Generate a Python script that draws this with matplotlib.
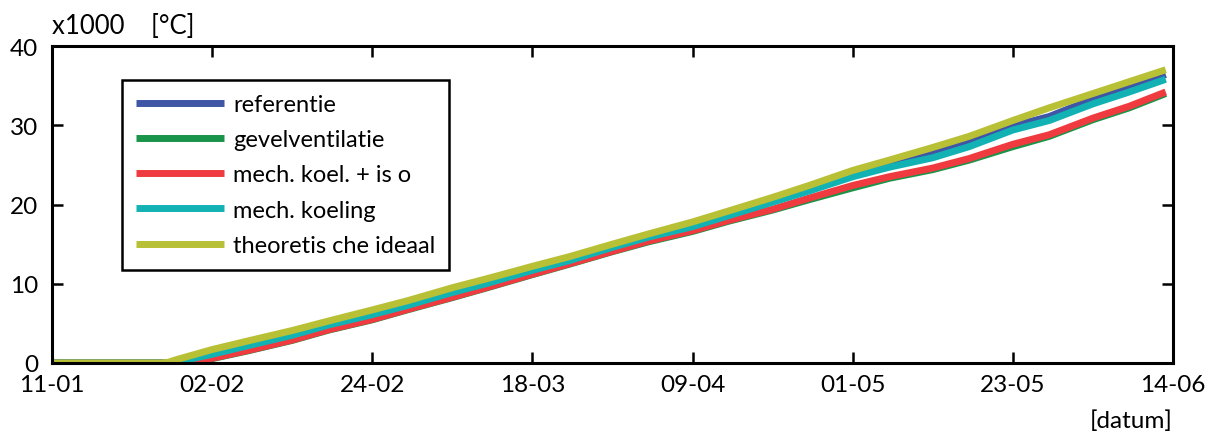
import matplotlib
matplotlib.use("Agg")
import matplotlib.pyplot as plt

plt.rcParams['font.family'] = ['Lato', 'DejaVu Sans']

# days since 11-01
days = [0, 15, 16, 17, 22, 27, 33, 38, 44, 49, 55, 60, 66, 71, 77, 82, 88, 93,
        99, 104, 110, 115, 121, 126, 132, 137, 143, 148, 153]

referentie = [0, 0, 0.05, 0.15, 1.15, 2.25, 3.55, 4.85, 6.15, 7.35, 8.95, 10.15,
              11.75, 12.95, 14.65, 15.95, 17.25, 18.7, 20.4, 21.9, 23.9, 25.2,
              26.5, 27.9, 29.9, 31.1, 33.3, 34.8, 36.4]
gevelventilatie = [0, 0, 0, 0.0, 0.55, 1.55, 2.85, 4.15, 5.45, 6.75, 8.25, 9.55,
                   11.15, 12.45, 14.05, 15.3, 16.6, 17.9, 19.3, 20.6, 22.1, 23.3,
                   24.4, 25.6, 27.3, 28.6, 30.7, 32.2, 34.0]
mech_koel_iso = [0, 0, 0, 0.05, 0.6, 1.6, 2.9, 4.2, 5.5, 6.8, 8.3, 9.6, 11.2,
                 12.5, 14.1, 15.4, 16.7, 18.0, 19.4, 20.8, 22.4, 23.5, 24.6, 25.8,
                 27.6, 28.8, 30.9, 32.4, 34.2]
mech_koeling = [0, 0, 0, 0.1, 1.1, 2.2, 3.5, 4.8, 6.1, 7.3, 8.9, 10.1, 11.7,
                12.9, 14.6, 15.9, 17.2, 18.6, 20.3, 21.7, 23.5, 24.7, 25.9, 27.3,
                29.4, 30.6, 32.7, 34.2, 35.8]
theoretisch = [0, 0, 0.1, 0.4, 1.7, 2.8, 4.1, 5.3, 6.7, 7.9, 9.5, 10.7, 12.2,
               13.4, 15.0, 16.3, 17.8, 19.2, 20.9, 22.4, 24.3, 25.6, 27.2, 28.6,
               30.6, 32.2, 34.0, 35.5, 37.0]

series_names = ['referentie', 'gevelventilatie', 'mech. koel. + is o',
                'mech. koeling', 'theoretis che ideaal']
series_values = [referentie, gevelventilatie, mech_koel_iso, mech_koeling, theoretisch]
colors = ['#3F55A6', '#1A9448', '#EF3B3F', '#12B2B4', '#B8C035']

xtick_pos = [0, 22, 44, 66, 88, 110, 132, 154]
xtick_labels = ['11-01', '02-02', '24-02', '18-03', '09-04', '01-05', '23-05', '14-06']
ytick_pos = [0, 10, 20, 30, 40]

fig = plt.figure(figsize=(12.08, 4.35), dpi=100)
ax = fig.add_axes([52 / 1208, (435 - 364) / 435, 1121 / 1208, 317 / 435])

handles = []
for name, vals, c in zip(series_names, series_values, colors):
    h, = ax.plot(days, vals, color=c, lw=5, label=name, solid_capstyle='butt')
    handles.append(h)

ax.set_xlim(0, 154)
ax.set_ylim(0, 40)
ax.set_xticks(xtick_pos)
ax.set_xticklabels(xtick_labels)
ax.set_yticks(ytick_pos)
ax.tick_params(direction='in', length=8, width=1.8, labelsize=17.5,
               top=True, right=True)
ax.tick_params(axis='x', pad=8)
ax.tick_params(axis='y', pad=10)
for s in ax.spines.values():
    s.set_linewidth(2.2)

leg = ax.legend(handles=handles, loc='upper left',
                bbox_to_anchor=((122 - 52) / 1121, (364 - 81) / 317),
                fontsize=17, handlelength=3.7, handletextpad=0.4,
                labelspacing=0.6, borderpad=0.6, fancybox=False,
                framealpha=1, edgecolor='black', borderaxespad=0)
leg.get_frame().set_linewidth(1.8)

fig.text(52 / 1208, 1 - 26 / 435, 'x1000    [°C]', fontsize=18.5,
         ha='left', va='center')
fig.text(1173 / 1208, 1 - 421 / 435, '[datum]', fontsize=17.5,
         ha='right', va='center')

fig.savefig('out.png', dpi=100)
